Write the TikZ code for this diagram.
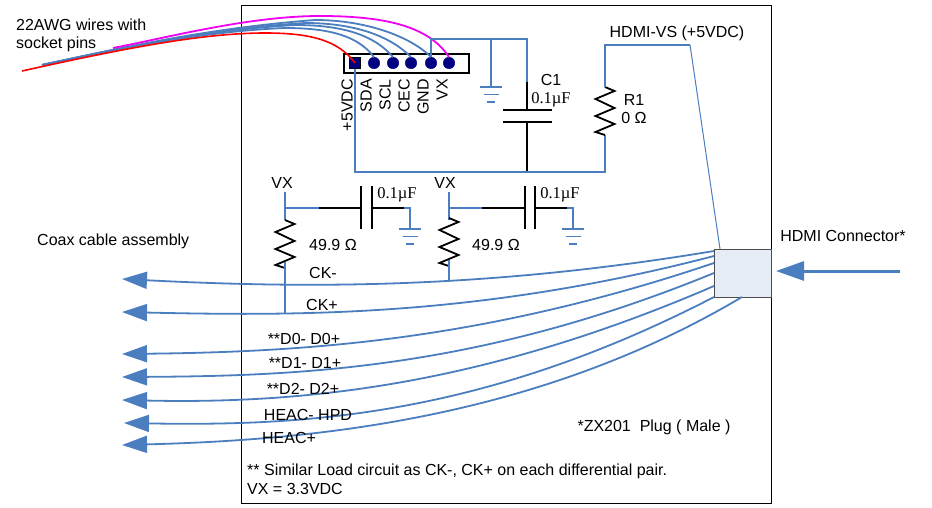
\documentclass[tikz,border=0pt]{standalone}
\usepackage{fontspec}
\setmainfont{Liberation Sans}
\newfontfamily\capfont{Liberation Serif}
\usetikzlibrary{arrows.meta}
\definecolor{wireblue}{HTML}{4A7EBF}
\definecolor{pinnavy}{HTML}{000080}
\definecolor{connfill}{HTML}{E6ECF6}
\definecolor{wirepink}{HTML}{F000F0}
\tikzset{
  label/.style={font=\fontsize{16}{18}\selectfont,inner sep=0pt},
  caplabel/.style={font=\capfont\fontsize{16.5}{18}\selectfont,inner sep=0pt},
  pinlabel/.style={label,rotate=90,anchor=east},
  pinround/.style={circle,fill=pinnavy,draw=pinnavy,minimum size=11.5,inner sep=0pt},
  wire/.style={wireblue,line width=1.8pt},
  part/.style={black,line width=1.8pt},
  coax/.style={wireblue,line width=1.8pt,-{Triangle[length=25pt,width=17pt]}},
  zigzag/.pic={
    \draw[part] (0,0)--(9.5,4)--(-9.5,12)--(9.5,21)--(-9.5,29)--(9.5,37)--(-9.5,45)--(0,48);
  },
  gnd/.pic={
    \draw[wire] (-11,0)--(11,0);
    \draw[wire] (-7.5,7.5)--(7.5,7.5);
    \draw[wire] (-4,15)--(4,15);
  },
}
\begin{document}
\begin{tikzpicture}[x=1pt,y=-1pt]
\useasboundingbox (0,0) rectangle (932,508);
\node[draw,line width=1pt,minimum width=530,minimum height=497,inner sep=0pt] (board) at (506,254.5) {};
\node[draw,line width=1.6pt,minimum width=125,minimum height=19,inner sep=0pt] (header) at (406.5,63.5) {};
\node[draw=black,fill=pinnavy,minimum size=11,inner sep=0pt] (pinV) at (355,63) {};
\node[pinround] (pinSDA) at (374,63) {};
\node[pinround] (pinSCL) at (393,63) {};
\node[pinround] (pinCEC) at (411,63) {};
\node[pinround] (pinGND) at (431,63) {};
\node[pinround] (pinVX) at (449,63) {};
\node[draw=black!70,fill=connfill,line width=1pt,minimum width=57,minimum height=48,inner sep=0pt] (hdmi) at (742.5,273) {};

\node[pinlabel] at (347,79) {+5VDC};
\node[pinlabel] at (366,79) {SDA};
\node[pinlabel] at (385,79) {SCL};
\node[pinlabel] at (404,79) {CEC};
\node[pinlabel] at (423,79) {GND};
\node[pinlabel] at (442,79) {VX};

\coordinate (endRed) at (22,71);
\coordinate (endBlue) at (42,65);
\coordinate (endPink) at (113,48);
\draw[wire] (endBlue) .. controls (130,46) and (210,31) .. (285,28) .. controls (330,28) and (358,36) .. (pinSDA.north);
\draw[wire] (endBlue) .. controls (130,46) and (210,30) .. (295,25) .. controls (345,25) and (375,36) .. (pinSCL.north);
\draw[wire] (endBlue) .. controls (130,46) and (210,29) .. (305,23) .. controls (355,23) and (390,36) .. (pinCEC.north);
\draw[wire] (endBlue) .. controls (130,46) and (210,28) .. (315,20) .. controls (365,20) and (410,36) .. (pinGND.north);
\draw[red,line width=1.6pt] (endRed) .. controls (130,47) and (205,33) .. (265,33) .. controls (310,33) and (338,40) .. (pinV.center);
\draw[wirepink,line width=1.8pt] (endPink) .. controls (170,37) and (250,16) .. (320,16) .. controls (390,16) and (430,28) .. (pinVX.north);

\coordinate (topA) at (431,39);
\coordinate (topB) at (491,39);
\coordinate (topC) at (527,39);
\draw[wire] (pinGND.north)--(topA)--(topC)--(527,82);
\draw[wire] (topB)--(491,87);
\pic at (491,87) {gnd};
\draw[part] (527,82)--(527,110);
\draw[part] (503,110)--(552,110);
\draw[part] (503,122)--(552,122);
\draw[part] (527,122)--(527,172);
\coordinate (botL) at (355,172);
\coordinate (botR) at (605,172);
\draw[wire] (pinV.south)--(botL)--(botR)--(605,135);
\pic at (605,87) {zigzag};
\coordinate (vsA) at (605,44.7);
\coordinate (vsB) at (690,44.7);
\draw[wire] (605,87)--(vsA)--(vsB);
\draw[wireblue,line width=1pt] (vsB)--(720,249);

\node[label] at (551,80) {C1};
\node[caplabel] at (551,100) {0.1µF};
\node[label] at (634,100) {R1};
\node[label] at (634,118) {0 Ω};
\node[label] at (677,33) {HDMI-VS (+5VDC)};

\node[label] (vxA) at (282,183) {VX};
\node[label] (vxB) at (445,183) {VX};
\coordinate (tapA) at (285,208);
\coordinate (tapB) at (449,208);
\coordinate (joinA) at (285,313);
\coordinate (joinB) at (449,281);
\draw[wire] (285,192)--(285,220);
\draw[wire] (449,192)--(449,220);
\pic at (285,220) {zigzag};
\pic at (449,218) {zigzag};
\draw[wire] (285,262)--(joinA);
\draw[wire] (449,260)--(joinB);
\draw[wire] (tapA)--(319,208);
\draw[part] (319,208)--(361,208);
\draw[part] (361,186)--(361,229);
\draw[part] (372,186)--(372,229);
\draw[part] (372,208)--(404,208);
\draw[wire] (404,208)--(410,208)--(410,229);
\pic at (410,229) {gnd};
\draw[wire] (tapB)--(482,208);
\draw[part] (482,208)--(525,208);
\draw[part] (525,186)--(525,229);
\draw[part] (535,186)--(535,229);
\draw[part] (535,208)--(567,208);
\draw[wire] (567,208)--(573,208)--(573,229);
\pic at (573,229) {gnd};
\node[caplabel] at (397,195) {0.1µF};
\node[caplabel] at (560,195) {0.1µF};
\node[label] at (333,245) {49.9 Ω};
\node[label] at (496,245) {49.9 Ω};

\foreach \portx/\porty/\ctrlx/\ctrla/\ctrlbx/\ctrlb/\tipx/\tipy in {
  714/251/480/290/300/288/122/279,
  714/256/480/317/300/316/122/312,
  714/263/480/342/300/352/122/354,
  714/273/480/369/300/376/122/377,
  714/286/480/387/300/404/122/400,
  714/297/480/418/300/426/124/423,
  742/297/540/417/320/440/122/445}
{
  \coordinate (port) at (\portx,\porty);
  \coordinate (tip) at (\tipx,\tipy);
  \draw[coax] (port) .. controls (\ctrlx,\ctrla) and (\ctrlbx,\ctrlb) .. (tip);
}

\coordinate (feed) at (900,271);
\coordinate (feedTip) at (776,271);
\draw[wireblue,line width=3pt,-{Triangle[length=28pt,width=19pt]}] (feed)--(feedTip);

\node[label,anchor=west] at (16,25) {22AWG wires with};
\node[label,anchor=west] at (16,44) {socket pins};
\node[label,anchor=west] at (37,241) {Coax cable assembly};
\node[label] at (843,236) {HDMI Connector*};
\node[label] at (323,273) {CK-};
\node[label] at (322,305) {CK+};
\node[label] at (304,339) {**D0- D0+};
\node[label] at (305,363) {**D1- D1+};
\node[label] at (303,389) {**D2- D2+};
\node[label] at (308,415) {HEAC- HPD};
\node[label] at (289,438) {HEAC+};
\node[label] at (654,427) {*ZX201\ \ Plug ( Male )};
\node[label,anchor=west] at (247,471) {** Similar Load circuit as CK-, CK+ on each differential pair.};
\node[label,anchor=west] at (247,489) {VX = 3.3VDC};
\end{tikzpicture}
\end{document}
